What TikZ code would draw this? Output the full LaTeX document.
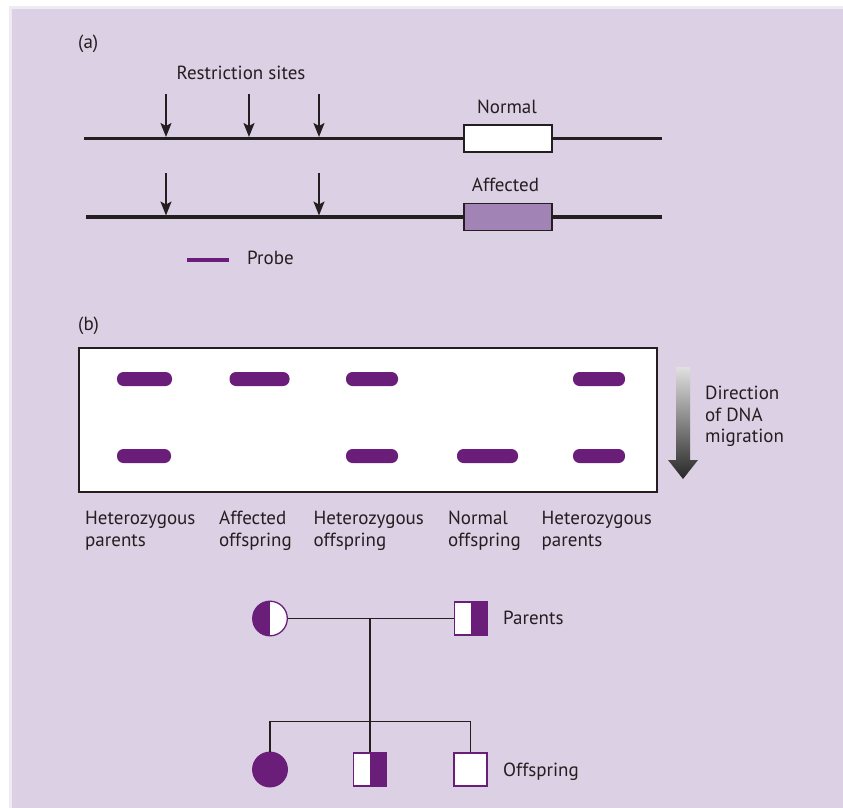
\documentclass[tikz,border=0pt]{standalone}
\usepackage{fontspec}
\setmainfont{PT Sans}
\usetikzlibrary{arrows.meta, positioning, calc}
\definecolor{lilac}{HTML}{DCD0E4}
\definecolor{plum}{HTML}{6A1E7A}
\definecolor{mauve}{HTML}{A283B5}
\definecolor{ink}{HTML}{231F20}

\begin{document}
\begin{tikzpicture}[x=1pt, y=-1pt,
    every node/.style={font=\fontsize{19}{21.5}\selectfont, text=ink, inner sep=0},
    dna/.style={draw=ink, line width=3.2pt},
    cut/.style={draw=ink, line width=1.6pt, -{Stealth[length=14pt, width=11pt, inset=3pt]}},
    gene/.style={draw=ink, line width=1.3pt, minimum width=88pt, minimum height=27pt},
    band/.style={fill=plum, rounded corners=6.5pt, minimum height=14pt},
    lane/.style={anchor=north west, align=left},
    female/.style={circle, draw=plum, line width=1.3pt, fill=white, minimum size=34.6pt},
    male/.style={rectangle, draw=plum, line width=1.3pt, fill=white, minimum size=33pt},
    lefthalf/.style={path picture={\fill[plum] (path picture bounding box.south west) rectangle (path picture bounding box.north);}},
    righthalf/.style={path picture={\fill[plum] (path picture bounding box.south) rectangle (path picture bounding box.north east);}},
    kin/.style={draw=ink, line width=1.3pt}
  ]
  \useasboundingbox (0,0) rectangle (843,808);
  \fill[lilac] (9,6) rectangle (843,808);
  \draw[lilac!45!white, line width=3pt] (10.5,808) |- (843,7.5);

  % (a) restriction map
  \node[anchor=west] (a) at (78,44) {(a)};
  \node[anchor=base] (sites) at (241,79) {Restriction sites};

  \coordinate (n1) at (84,138.5);
  \coordinate (n2) at (662,138.5);
  \draw[dna] (n1) -- (n2);
  \node[gene, fill=white] (normal) at (508,138.5) {};
  \node[anchor=base] (normallbl) at (507,113) {Normal};
  \coordinate (s1) at (166,94);  \coordinate (t1) at (166,137);
  \coordinate (s2) at (249,94);  \coordinate (t2) at (249,137);
  \coordinate (s3) at (319,94);  \coordinate (t3) at (319,137);
  \draw[cut] (s1) -- (t1);
  \draw[cut] (s2) -- (t2);
  \draw[cut] (s3) -- (t3);

  \coordinate (m1) at (86,217);
  \coordinate (m2) at (662,217);
  \draw[dna] (m1) -- (m2);
  \node[gene, fill=mauve] (affected) at (508,217) {};
  \node[anchor=base] (affectedlbl) at (505.5,191.5) {Affected};
  \coordinate (s4) at (166,173);  \coordinate (t4) at (166,215.5);
  \coordinate (s5) at (319,173);  \coordinate (t5) at (319,215.5);
  \draw[cut] (s4) -- (t4);
  \draw[cut] (s5) -- (t5);

  \coordinate (p1) at (187,260);
  \coordinate (p2) at (229,260);
  \draw[plum, line width=4.5pt] (p1) -- (p2);
  \node[anchor=west] (probe) at (247,258) {Probe};

  % (b) Southern blot
  \node[anchor=west] (b) at (78,326) {(b)};
  \node[draw=ink, line width=1.3pt, fill=white, minimum width=578pt, minimum height=144pt] (gel) at (368,420) {};
  \node[band, minimum width=55pt] (b11) at (144.5,379) {};
  \node[band, minimum width=60pt] (b21) at (259.5,379) {};
  \node[band, minimum width=52pt] (b31) at (372,379) {};
  \node[band, minimum width=52pt] (b51) at (599,379) {};
  \node[band, minimum width=54pt] (b12) at (144,456) {};
  \node[band, minimum width=52pt] (b32) at (372,456) {};
  \node[band, minimum width=61pt] (b42) at (487.5,456) {};
  \node[band, minimum width=52pt] (b52) at (599,456) {};

  \shade[top color=black!12, bottom color=black!85] (676,367) -- (690,367) -- (690,460) -- (698,460) -- (683,479) -- (668,460) -- (676,460) -- cycle;
  \node[lane] (dir) at (705,386) {Direction\\of DNA\\migration};

  \node[lane] (l1) at (85,511) {Heterozygous\\parents};
  \node[lane] (l2) at (219,511) {Affected\\offspring};
  \node[lane] (l3) at (313.5,511) {Heterozygous\\offspring};
  \node[lane] (l4) at (448,511) {Normal\\offspring};
  \node[lane] (l5) at (541.5,511) {Heterozygous\\parents};

  % pedigree
  \node[female, lefthalf] (mom) at (270,618.5) {};
  \node[male, righthalf] (dad) at (471,618.5) {};
  \node[female, fill=plum] (girl) at (270,769.5) {};
  \node[male, righthalf] (son) at (370,769.5) {};
  \node[male] (boy) at (470.5,769.5) {};
  \draw[kin] (mom) -- (dad);
  \draw[kin] (mom -| son) -- (son);
  \draw[kin] (girl) -- ++(0,-48) -| (boy);
  \node[anchor=west] (parents) at (503,618) {Parents};
  \node[anchor=west] (offspring) at (503,772) {Offspring};
\end{tikzpicture}
\end{document}
